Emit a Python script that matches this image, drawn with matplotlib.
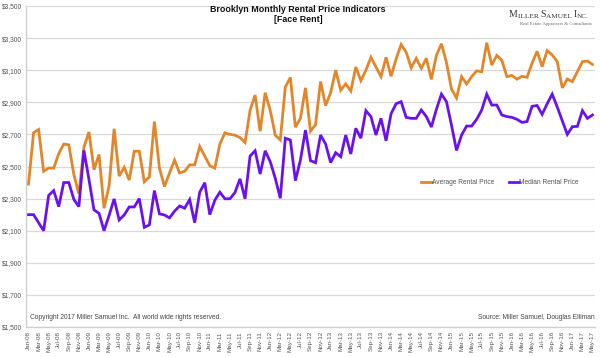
import matplotlib
matplotlib.use("Agg")
import matplotlib.pyplot as plt
from matplotlib.lines import Line2D
import numpy as np
import pandas as pd

plt.rcParams["font.family"] = ["Liberation Sans", "DejaVu Sans"]

# データ: 2008年1月〜2017年5月（月次）
months = pd.date_range("2008-01-01", "2017-05-01", freq="MS").strftime("%b-%y").tolist()

avg_rent = [
    2390, 2710, 2730, 2470, 2490, 2490, 2580, 2640, 2635, 2450, 2330, 2620,
    2715, 2480, 2575, 2240, 2380, 2735, 2440, 2495, 2415, 2595, 2595, 2405,
    2435, 2780, 2490, 2375, 2460, 2540, 2460, 2470, 2510, 2510, 2625, 2565,
    2505, 2490, 2640, 2710, 2700, 2695, 2680, 2650, 2850, 2945, 2720, 2960,
    2850, 2695, 2665, 2995, 3055, 2745, 2800, 2990, 2720, 2760, 3030, 2880,
    2960, 3100, 2975, 3015, 2970, 3120, 3035, 3100, 3180, 3120, 3060, 3180,
    3062, 3170, 3260, 3212, 3115, 3174, 3112, 3174, 3043, 3192, 3265, 3148,
    2982, 2927, 3060, 3014, 3060, 3096, 3090, 3271, 3132, 3192, 3162, 3060,
    3067, 3044, 3062, 3056, 3143, 3218, 3122, 3222, 3195, 3153, 2990, 3045,
    3029, 3091, 3153, 3157, 3136,
]

median_rent = [
    2200, 2200, 2150, 2100, 2320, 2350, 2250, 2400, 2400, 2295, 2250, 2600,
    2420, 2230, 2208, 2100, 2195, 2298, 2167, 2198, 2248, 2248, 2300, 2121,
    2136, 2350, 2205, 2198, 2180, 2222, 2254, 2240, 2294, 2150, 2340, 2399,
    2200, 2290, 2340, 2299, 2299, 2338, 2423, 2299, 2565, 2598, 2453, 2598,
    2530, 2427, 2302, 2676, 2665, 2412, 2540, 2727, 2536, 2524, 2696, 2640,
    2524, 2586, 2561, 2696, 2578, 2738, 2676, 2848, 2811, 2696, 2800, 2660,
    2829, 2891, 2904, 2806, 2800, 2800, 2852, 2811, 2746, 2856, 2951, 2904,
    2758, 2600, 2696, 2752, 2752, 2794, 2852, 2951, 2883, 2883, 2821, 2811,
    2806, 2794, 2775, 2780, 2875, 2880, 2825, 2891, 2951, 2871, 2785, 2700,
    2748, 2750, 2848, 2800, 2821,
]

y_ticks = list(range(1500, 3501, 200))

ORANGE = "#E3862A"
PURPLE = "#6A12EE"
GRAY = "#555555"

fig = plt.figure(figsize=(6, 3.57), dpi=100)
fig.patch.set_facecolor("white")
ax = fig.add_axes([26 / 600, 1 - 327 / 357, 569 / 600, 321 / 357])

x = np.arange(len(months))
ax.plot(x, avg_rent, color=ORANGE, lw=2.0, solid_joinstyle="miter", zorder=3)
ax.plot(x, median_rent, color=PURPLE, lw=2.0, solid_joinstyle="miter", zorder=3)

ax.set_xlim(-0.5, len(months) - 0.5)
ax.set_ylim(1500, 3500)
ax.set_yticks(y_ticks)
ax.set_yticklabels([f"${v:,}" for v in y_ticks], fontsize=4.8, color=GRAY)
ax.set_xticks(x[::2])
ax.set_xticklabels(months[::2], rotation=90, fontsize=4.5, color=GRAY)
ax.tick_params(length=0, pad=3)

ax.grid(axis="y", color="#d9d9d9", lw=0.9, zorder=0)
for s in ["top", "right"]:
    ax.spines[s].set_visible(False)
for s in ["left", "bottom"]:
    ax.spines[s].set_color("#d0d0d0")
    ax.spines[s].set_linewidth(1.0)

# タイトル
fig.text(0.497, 1 - 14.5 / 357, "Brooklyn Monthly Rental Price Indicators\n[Face Rent]",
         ha="center", va="center", fontsize=6.4, fontweight="bold", color="#111111",
         linespacing=1.25)

# ロゴ（スモールキャップス風）
pieces = [("M", 7.0), ("ILLER ", 5.2), ("S", 7.0), ("AMUEL ", 5.2), ("I", 7.0), ("NC.", 5.2)]
prev = fig.text(509 / 600, 1 - 19 / 357, pieces[0][0], ha="left", va="bottom",
                fontsize=pieces[0][1], family="Liberation Serif", color="#333333")
for txt, fs in pieces[1:]:
    prev = ax.annotate(txt, xy=(1, 0), xycoords=prev, ha="left", va="bottom",
                       fontsize=fs, family="Liberation Serif", color="#333333",
                       annotation_clip=False)
fig.text(592 / 600, 1 - 24 / 357, "Real Estate Appraisers & Consultants", ha="right",
         va="center", fontsize=3.4, family="Liberation Serif", color="#666666")

# 凡例
handles = [Line2D([], [], color=ORANGE, lw=2.0), Line2D([], [], color=PURPLE, lw=2.0)]
fig.legend(handles, ["Average Rental Price", "Median Rental Price"], ncol=2,
           loc="center", bbox_to_anchor=(500 / 600, 1 - 183 / 357), frameon=False,
           fontsize=4.8, handlelength=1.6, handletextpad=0.0, columnspacing=2.2,
           labelcolor=GRAY)

# 注記
ax.text(0.007, 0.018, "Copyright 2017 Miller Samuel Inc.  All world wide rights reserved.",
        transform=ax.transAxes, fontsize=4.8, color="#444444", ha="left", va="bottom")
ax.text(0.9985, 0.018, "Source: Miller Samuel, Douglas Elliman",
        transform=ax.transAxes, fontsize=4.8, color="#444444", ha="right", va="bottom")

fig.savefig("out.png", dpi=100)
